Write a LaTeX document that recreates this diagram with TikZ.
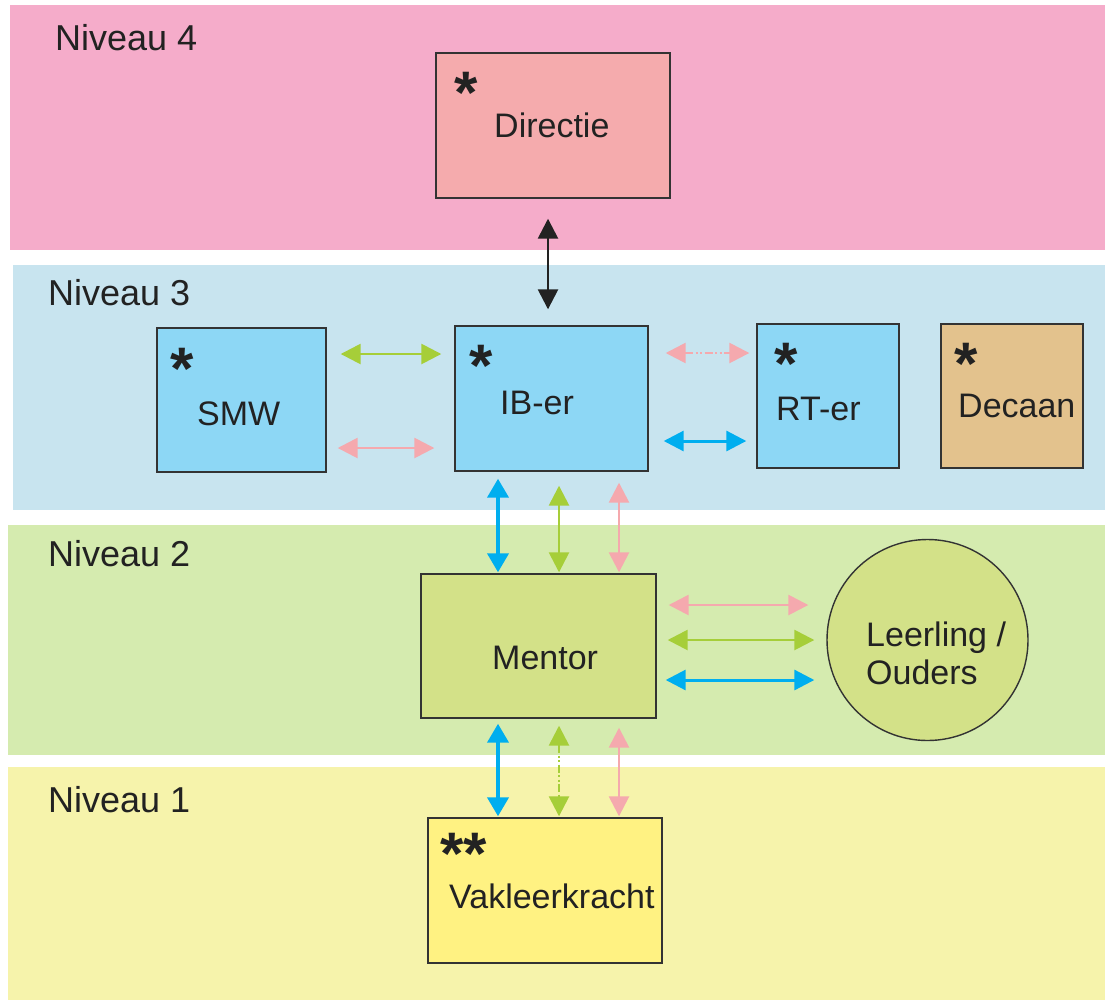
\documentclass[tikz,border=0pt]{standalone}
\usepackage{fontspec}
\setmainfont{Liberation Sans}
\usetikzlibrary{arrows.meta}
\definecolor{bandpink}{HTML}{F5ACCA}
\definecolor{bandblue}{HTML}{C8E4EF}
\definecolor{bandgreen}{HTML}{D5EBAF}
\definecolor{bandyellow}{HTML}{F6F3AB}
\definecolor{fdirectie}{HTML}{F5ABAD}
\definecolor{fblue}{HTML}{8DD7F5}
\definecolor{fdecaan}{HTML}{E3C28D}
\definecolor{fmentor}{HTML}{D3E188}
\definecolor{fvak}{HTML}{FFF282}
\definecolor{aBlue}{HTML}{00AEEF}
\definecolor{aGreen}{HTML}{A6CE39}
\definecolor{aPink}{HTML}{F5A9AE}
\definecolor{aBlack}{HTML}{222222}
\definecolor{edge}{HTML}{333333}
\begin{document}
\begin{tikzpicture}[x=1pt,y=-1pt,
  box/.style={draw=edge,line width=1.4pt,inner sep=0pt,minimum width=#1},
  lvl/.style={anchor=base west,inner sep=0pt,font=\fontsize{36}{36}\selectfont,text=aBlack},
  lbl/.style={anchor=base west,inner sep=0pt,font=\fontsize{34}{36}\selectfont,text=aBlack},
  star/.style={inner sep=0pt,font=\fontsize{60}{60}\selectfont\bfseries,text=aBlack},
  conn/.style={line width=2.6pt,{Triangle[length=20pt,width=20pt]}-{Triangle[length=20pt,width=20pt]}},
  connthick/.style={line width=4pt,{Triangle[length=19pt,width=21pt]}-{Triangle[length=19pt,width=21pt]}},
  dashdd/.style={dash pattern=on 8pt off 2.5pt on 2pt off 2.5pt on 2pt off 2.5pt}
]
\useasboundingbox (0,0) rectangle (1107,1001);
\fill[white] (0,0) rectangle (1107,1001);
% bands
\fill[bandpink] (10,5) rectangle (1105,250);
\fill[bandblue] (13,265) rectangle (1105,510);
\fill[bandgreen] (8,525) rectangle (1105,755);
\fill[bandyellow] (8,767) rectangle (1105,1000);
\node[lvl] (n4) at (55,50) {Niveau 4};
\node[lvl] (n3) at (48,305) {Niveau 3};
\node[lvl] (n2) at (48,566) {Niveau 2};
\node[lvl] (n1) at (48,812) {Niveau 1};
% boxes
\node[box=234pt,minimum height=145pt,fill=fdirectie] (directie) at (553,125.5) {};
\node[box=169pt,minimum height=144pt,fill=fblue] (smw) at (241.5,400) {};
\node[box=193pt,minimum height=145pt,fill=fblue] (ib) at (551.5,398.5) {};
\node[box=142pt,minimum height=144pt,fill=fblue] (rt) at (828,396) {};
\node[box=142pt,minimum height=144pt,fill=fdecaan] (decaan) at (1012,396) {};
\node[box=235pt,minimum height=144pt,fill=fmentor] (mentor) at (538.5,646) {};
\node[draw=edge,line width=1.4pt,circle,minimum size=201pt,inner sep=0pt,fill=fmentor] (leerling) at (927.5,640) {};
\node[box=234pt,minimum height=145pt,fill=fvak] (vak) at (545,890.5) {};
% texts
\node[lbl] (tdirectie) at (494,137) {Directie};
\node[lbl] (tsmw) at (197,425) {SMW};
\node[lbl] (tib) at (500,414) {IB-er};
\node[lbl] (trt) at (776,420) {RT-er};
\node[lbl] (tdecaan) at (958,417) {Decaan};
\node[lbl] (tmentor) at (492,669) {Mentor};
\node[lbl] (tleer1) at (866,646) {Leerling /};
\node[lbl] (tleer2) at (866,684) {Ouders};
\node[lbl] (tvak) at (449,908) {Vakleerkracht};
% asterisks
\node[star] (sdirectie) at (466,93) {*};
\node[star] (sib) at (481,366) {*};
\node[star] (ssmw) at (182,369) {*};
\node[star] (srt) at (786,364) {*};
\node[star] (sdecaan) at (966,364) {*};
\node[star] (svak) at (464,854) {**};
% connectors
\draw[conn,aBlack,line width=2.6pt] ([shift={(-5,20)}]directie.south) -- ([shift={(-3.5,-16)}]ib.north);
\draw[conn,aGreen] ([shift={(14,-46)}]smw.east) -- ([shift={(-13,-44.5)}]ib.west);
\draw[conn,aPink] ([shift={(11,48)}]smw.east) -- ([shift={(-20,49.5)}]ib.west);
\draw[conn,aPink,dashdd] ([shift={(17,-45.5)}]ib.east) -- ([shift={(-7,-43)}]rt.west);
\draw[conn,aBlue,line width=3pt] ([shift={(15,42.5)}]ib.east) -- ([shift={(-10,45)}]rt.west);
\draw[connthick,aBlue] ([shift={(-53.5,7)}]ib.south) -- ([shift={(-40.5,-1)}]mentor.north);
\draw[conn,aGreen] ([shift={(7.5,14)}]ib.south) -- ([shift={(20.5,-1)}]mentor.north);
\draw[conn,aPink] ([shift={(67.5,11)}]ib.south) -- ([shift={(80.5,-1)}]mentor.north);
\draw[conn,aPink] ([shift={(12,-41)}]mentor.east) -- ([shift={(-18,-35)}]leerling.west);
\draw[conn,aGreen] ([shift={(11,-6)}]mentor.east) -- ([shift={(-12,0)}]leerling.west);
\draw[conn,aBlue,line width=3pt] ([shift={(9,34)}]mentor.east) -- ([shift={(-12,40)}]leerling.west);
\draw[connthick,aBlue] ([shift={(-40.5,5)}]mentor.south) -- ([shift={(-47,-1)}]vak.north);
\draw[conn,aGreen,dashdd] ([shift={(20.5,7)}]mentor.south) -- ([shift={(14,-1)}]vak.north);
\draw[conn,aPink] ([shift={(80.5,9)}]mentor.south) -- ([shift={(74,-1)}]vak.north);
\end{tikzpicture}
\end{document}
